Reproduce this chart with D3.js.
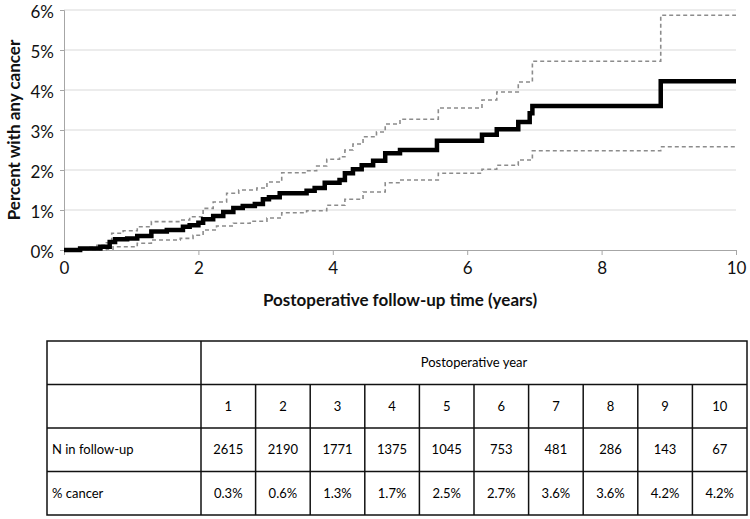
<!DOCTYPE html>
<html>
<head>
<meta charset="utf-8">
<script src="https://cdn.jsdelivr.net/npm/d3@7"></script>
<style>
  body { margin: 0; background: #fff; }
  text { font-family: Lato, "Open Sans", sans-serif; }
</style>
</head>
<body>
<div id="chart"></div>
<script>
var width  = 750;
var height = 519;

// cumulative incidence, step points [years, percent]
var estimate = [[0,0],[0.24,0.04],[0.54,0.08],[0.68,0.2],[0.76,0.27],[0.94,0.29],[1.09,0.35],[1.3,0.46],
  [1.53,0.5],[1.77,0.58],[1.87,0.62],[2.0,0.68],[2.07,0.77],[2.22,0.85],[2.37,0.95],[2.52,1.05],[2.66,1.1],
  [2.84,1.15],[2.96,1.27],[3.05,1.32],[3.21,1.42],[3.61,1.48],[3.73,1.55],[3.88,1.68],[4.1,1.75],[4.18,1.92],
  [4.3,2.02],[4.43,2.12],[4.6,2.23],[4.78,2.42],[5.0,2.5],[5.55,2.73],[6.22,2.88],[6.44,3.02],[6.76,3.2],
  [6.93,3.42],[6.97,3.6],[8.88,4.22],[10,4.22]];

var upperCI = [[0,0],[0.1,0.03],[0.34,0.07],[0.49,0.12],[0.63,0.18],[0.71,0.42],[0.88,0.48],[1.09,0.58],
  [1.3,0.71],[1.73,0.75],[1.87,0.83],[2.07,1.04],[2.22,1.2],[2.42,1.42],[2.6,1.5],[2.87,1.55],[3.02,1.7],
  [3.24,1.93],[3.61,1.98],[3.76,2.1],[3.91,2.27],[4.1,2.33],[4.18,2.5],[4.3,2.65],[4.45,2.83],[4.65,2.95],
  [4.78,3.15],[5.0,3.27],[5.57,3.55],[6.22,3.75],[6.44,3.95],[6.76,4.2],[6.97,4.72],[8.88,5.87],[10,5.87]];

var lowerCI = [[0,0],[0.63,0.02],[0.73,0.08],[1.09,0.17],[1.3,0.25],[1.73,0.29],[1.92,0.37],[2.07,0.5],
  [2.27,0.6],[2.52,0.67],[2.77,0.72],[3.02,0.8],[3.24,0.93],[3.61,0.98],[3.91,1.12],[4.18,1.27],[4.45,1.45],
  [4.78,1.68],[5.0,1.75],[5.57,1.92],[6.22,2.02],[6.44,2.12],[6.76,2.25],[6.97,2.48],[8.88,2.58],[10,2.58]];

var xTicks = [0, 2, 4, 6, 8, 10];
var yTicks = [0, 1, 2, 3, 4, 5, 6];

// table below the chart
var years    = [1, 2, 3, 4, 5, 6, 7, 8, 9, 10];
var nFollow  = [2615, 2190, 1771, 1375, 1045, 753, 481, 286, 143, 67];
var pctCancer = ["0.3%", "0.6%", "1.3%", "1.7%", "2.5%", "2.7%", "3.6%", "3.6%", "4.2%", "4.2%"];
var rowLabels = ["", "", "N in follow-up", "% cancer"];

var svg = d3.select("#chart")
    .append("svg")
    .attr("width", width)
    .attr("height", height);

var x = d3.scaleLinear().domain([0, 10]).range([64, 736]);
var y = d3.scaleLinear().domain([0, 6]).range([250, 10]);

// grid
svg.append('g')
    .selectAll('line')
    .data(yTicks.slice(1))
    .enter()
    .append('line')
    .attr('x1', x(0)).attr('x2', x(10))
    .attr('y1', function(d) { return y(d) }).attr('y2', function(d) { return y(d) })
    .attr('stroke', '#d9d9d9')
    .attr('stroke-width', 1);

var xAxis = svg.append('g')
    .attr('transform', 'translate(0,' + y(0) + ')')
    .call(d3.axisBottom(x).tickValues(xTicks).tickSize(5).tickPadding(7));

var yAxis = svg.append('g')
    .attr('transform', 'translate(' + x(0) + ',0)')
    .call(d3.axisLeft(y).tickValues(yTicks).tickSize(4).tickPadding(6)
      .tickFormat(function(d) { return d + '%' }));

[xAxis, yAxis].forEach(function(a) {
  a.select('.domain').attr('stroke', '#a6a6a6');
  a.selectAll('.tick line').attr('stroke', '#a6a6a6');
  a.selectAll('.tick text')
    .attr('fill', '#111')
    .style('font-size', '17px')
    .style('font-family', 'Lato, sans-serif');
});
yAxis.selectAll('.tick text').attr('dy', '0.42em');

svg.append('text')
    .attr('x', 400)
    .attr('y', 306)
    .attr('text-anchor', 'middle')
    .style('font-size', '17px')
    .style('font-weight', 'bold')
    .attr('fill', '#111')
    .text('Postoperative follow-up time (years)');

svg.append('text')
    .attr('transform', 'translate(20,130) rotate(-90)')
    .attr('text-anchor', 'middle')
    .style('font-size', '17px')
    .style('font-weight', 'bold')
    .attr('fill', '#111')
    .text('Percent with any cancer');

// curves
var line = d3.line()
    .x(function(d) { return x(d[0]) })
    .y(function(d) { return y(d[1]) })
    .curve(d3.curveStepAfter);

[upperCI, lowerCI].forEach(function(ci) {
  svg.append('path')
      .datum(ci)
      .attr('d', line)
      .attr('fill', 'none')
      .attr('stroke', '#8c8c8c')
      .attr('stroke-width', 1.6)
      .attr('stroke-dasharray', '4,3');
});

svg.append('path')
    .datum(estimate)
    .attr('d', line)
    .attr('fill', 'none')
    .attr('stroke', '#000')
    .attr('stroke-width', 4.5);

// table
var tTop = 341, tBottom = 515, tLeft = 47, tRight = 747, labelRight = 201;
var rowY = d3.scaleBand().domain(d3.range(4)).range([tTop, tBottom]);
var colX = d3.scaleBand().domain(years).range([labelRight, tRight]);

var table = svg.append('g');

table.append('rect')
    .attr('x', tLeft).attr('y', tTop)
    .attr('width', tRight - tLeft).attr('height', tBottom - tTop)
    .attr('fill', 'none').attr('stroke', '#111').attr('stroke-width', 1.5);

table.selectAll('line.row')
    .data(d3.range(1, 4))
    .enter()
    .append('line')
    .attr('class', 'row')
    .attr('x1', tLeft).attr('x2', tRight)
    .attr('y1', function(d) { return rowY(d) }).attr('y2', function(d) { return rowY(d) })
    .attr('stroke', '#111').attr('stroke-width', 1.5);

table.append('line')
    .attr('x1', labelRight).attr('x2', labelRight)
    .attr('y1', tTop).attr('y2', tBottom)
    .attr('stroke', '#111').attr('stroke-width', 1.5);

table.selectAll('line.col')
    .data(years.slice(1))
    .enter()
    .append('line')
    .attr('class', 'col')
    .attr('x1', function(d) { return colX(d) }).attr('x2', function(d) { return colX(d) })
    .attr('y1', rowY(1)).attr('y2', tBottom)
    .attr('stroke', '#111').attr('stroke-width', 1.5);

table.append('text')
    .attr('x', (labelRight + tRight) / 2)
    .attr('y', rowY(0) + rowY.bandwidth() / 2)
    .attr('dy', '0.35em')
    .attr('text-anchor', 'middle')
    .style('font-size', '13px')
    .text('Postoperative year');

var rows = [years, nFollow, pctCancer];
rows.forEach(function(vals, r) {
  table.selectAll(null)
      .data(vals)
      .enter()
      .append('text')
      .attr('x', function(d, i) { return colX(years[i]) + colX.bandwidth() / 2 })
      .attr('y', rowY(r + 1) + rowY.bandwidth() / 2)
      .attr('dy', '0.35em')
      .attr('text-anchor', 'middle')
      .style('font-size', '13px')
      .text(function(d) { return d });
});

table.selectAll('text.label')
    .data(rowLabels)
    .enter()
    .append('text')
    .attr('class', 'label')
    .attr('x', tLeft + 5)
    .attr('y', function(d, i) { return rowY(i) + rowY.bandwidth() / 2 })
    .attr('dy', '0.35em')
    .style('font-size', '13px')
    .text(function(d) { return d });
</script>
</body>
</html>
